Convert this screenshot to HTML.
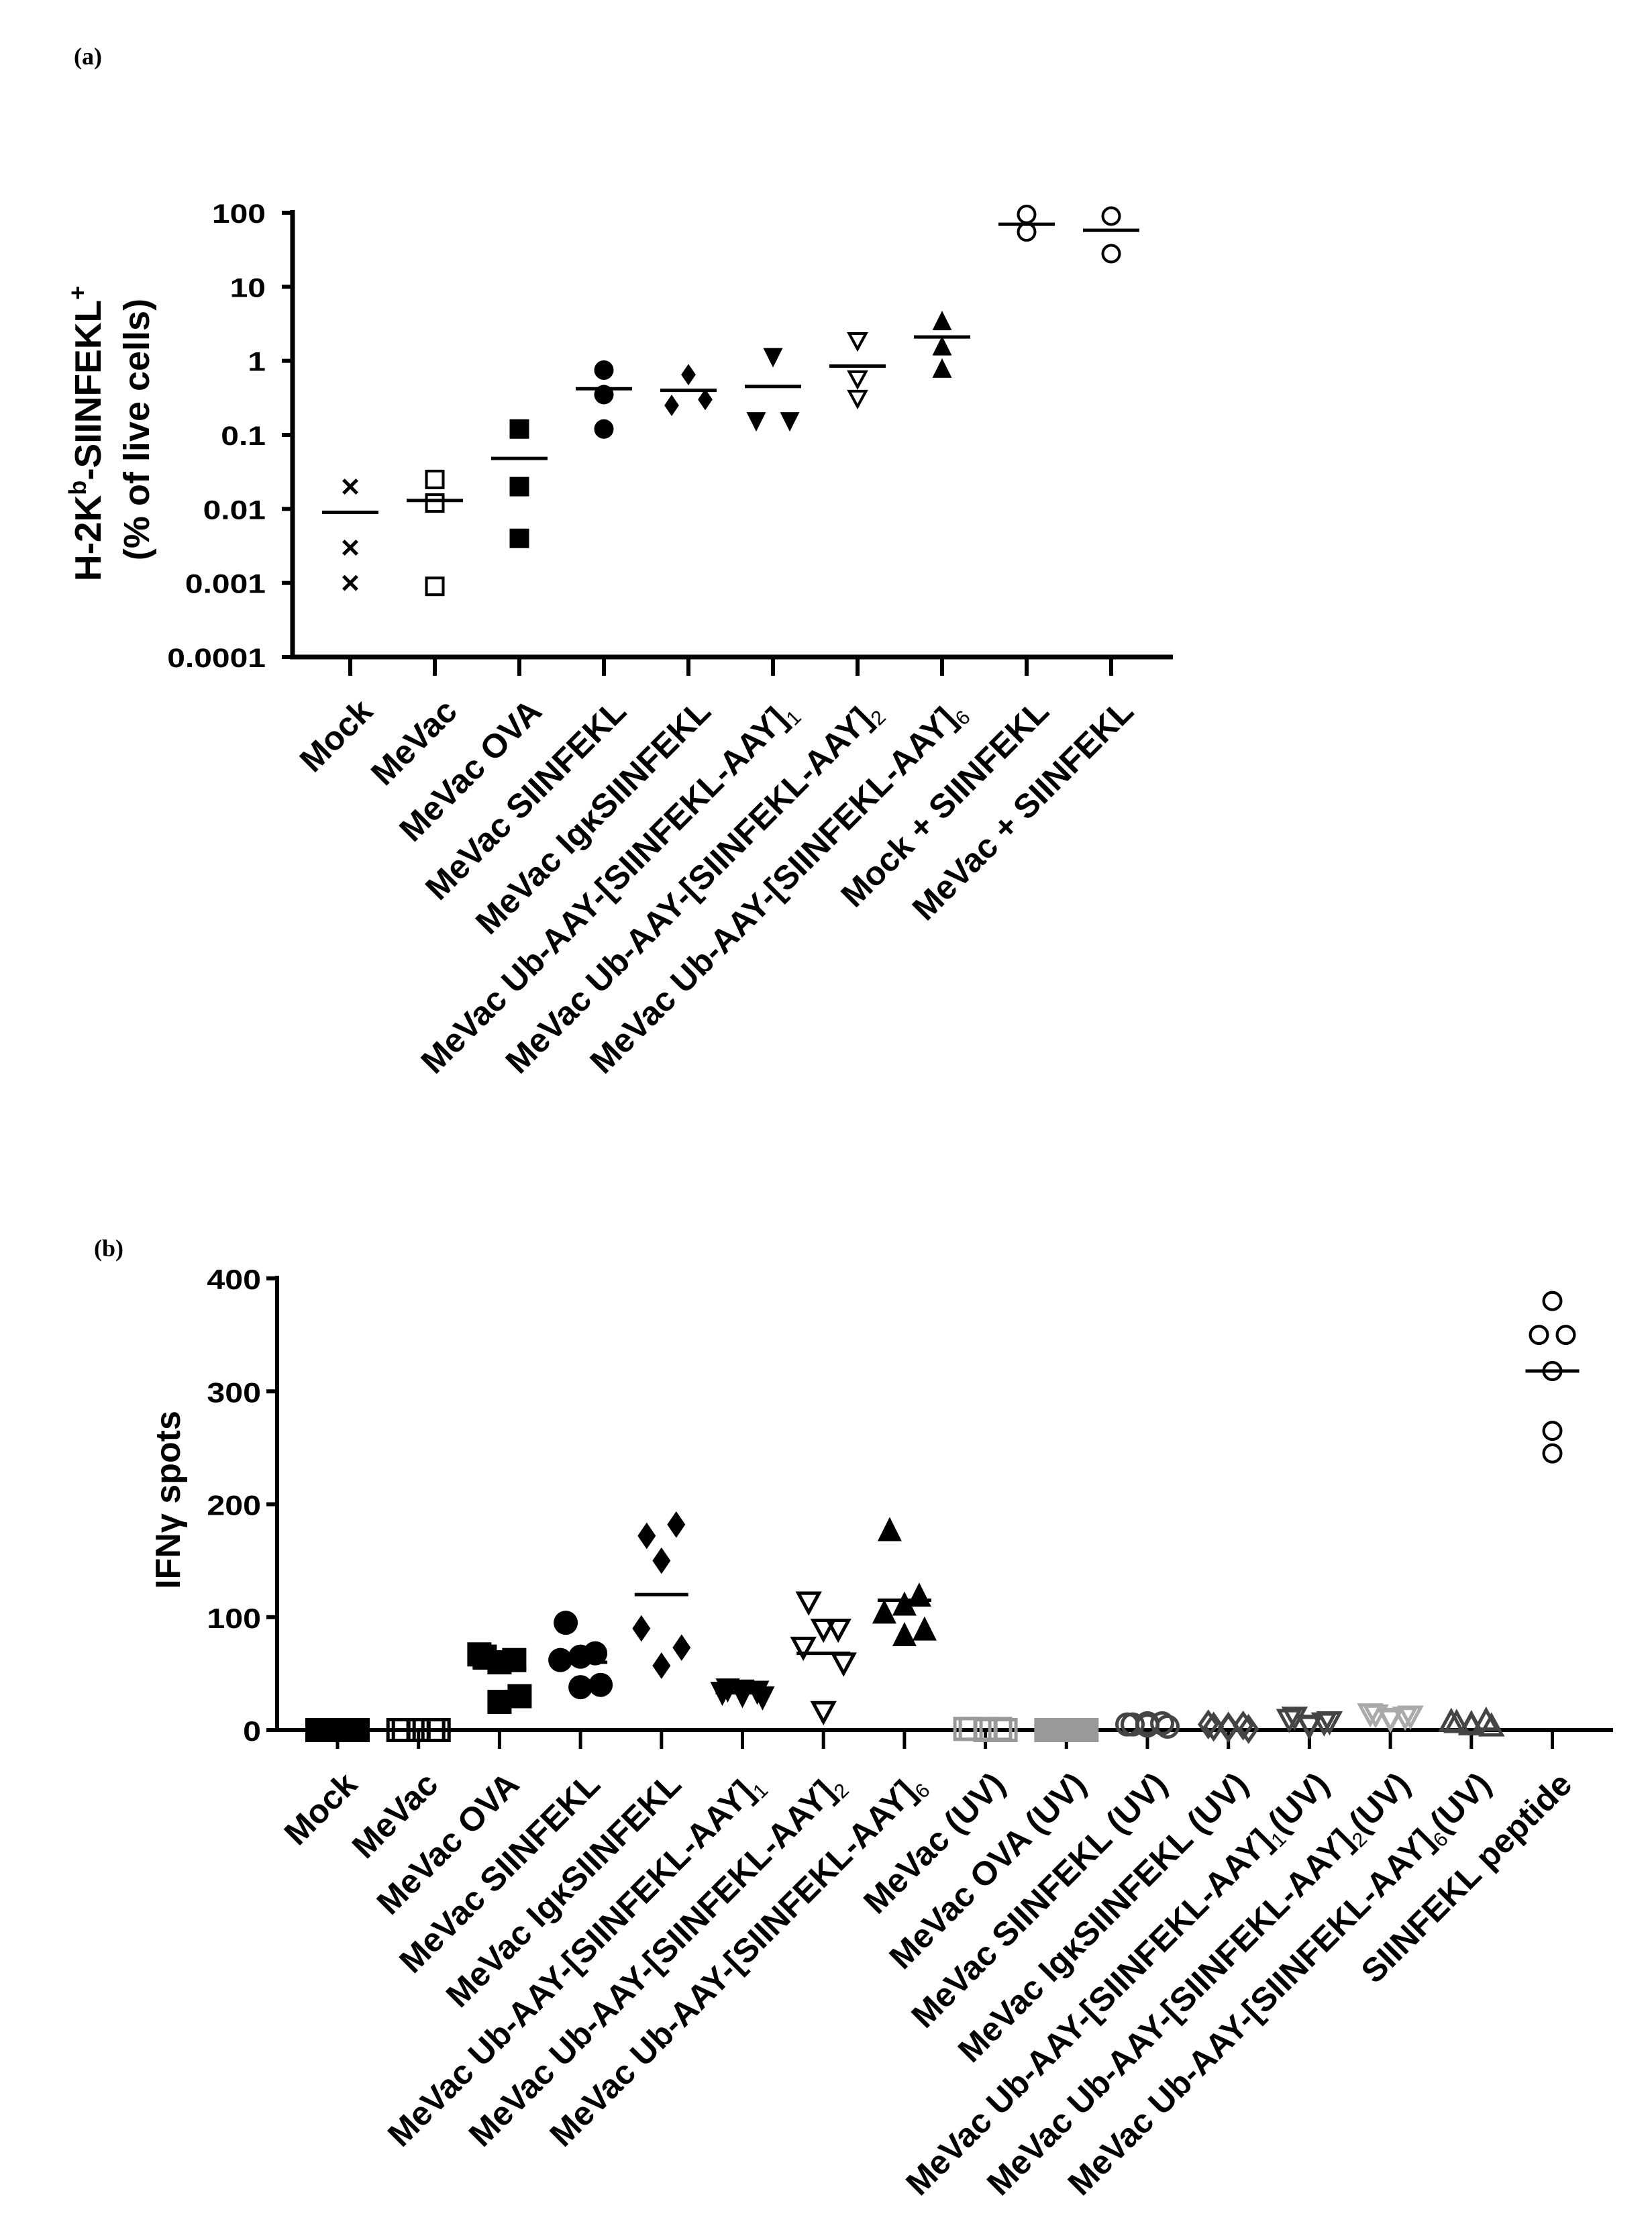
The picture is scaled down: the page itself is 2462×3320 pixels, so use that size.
<!DOCTYPE html>
<html><head><meta charset="utf-8">
<style>
html,body{margin:0;padding:0;background:#fff}
svg{display:block}
text{font-family:"Liberation Sans",Arial,sans-serif;font-weight:bold;fill:#000}
.pl{font-family:"Liberation Serif",serif;font-weight:bold;font-size:36px}
</style></head>
<body>
<svg id="fig" width="2462" height="3320" viewBox="0 0 2462 3320" xmlns="http://www.w3.org/2000/svg">
<text class="pl" x="110" y="96">(a)</text>
<text class="pl" x="140" y="1872">(b)</text>
<g id="ga"></g>
<g id="gb"></g>
</svg>
<script>
// ---------- Chart A data ----------
const catsA = ["Mock","MeVac","MeVac OVA","MeVac SIINFEKL","MeVac Ig\u03BASIINFEKL","MeVac Ub-AAY-[SIINFEKL-AAY]|1","MeVac Ub-AAY-[SIINFEKL-AAY]|2","MeVac Ub-AAY-[SIINFEKL-AAY]|6","Mock + SIINFEKL","MeVac + SIINFEKL"];
const valsA = [[0.02,0.003,0.001],[0.025,0.012,0.0009],[0.12,0.02,0.004],[0.75,0.35,0.12],[0.65,0.25,0.3],[1.1,0.15,0.15],[1.8,0.55,0.3],[3.5,1.6,0.8],[95,55],[90,28]];
const meansA = [0.009,0.013,0.048,0.42,0.4,0.45,0.85,2.1,70,58];
const markersA = ["x","osq","sq","circ","dia","tdn","otdn","tup","ocirc","ocirc"];
const ticksA = [0.0001,0.001,0.01,0.1,1,10,100];
const tickLabelsA = ["0.0001","0.001","0.01","0.1","1","10","100"];

// ---------- Chart B data ----------
const catsB = ["Mock","MeVac","MeVac OVA","MeVac SIINFEKL","MeVac Ig\u03BASIINFEKL","MeVac Ub-AAY-[SIINFEKL-AAY]|1","MeVac Ub-AAY-[SIINFEKL-AAY]|2","MeVac Ub-AAY-[SIINFEKL-AAY]|6","MeVac (UV)","MeVac OVA (UV)","MeVac SIINFEKL (UV)","MeVac Ig\u03BASIINFEKL (UV)","MeVac Ub-AAY-[SIINFEKL-AAY]|1|(UV)","MeVac Ub-AAY-[SIINFEKL-AAY]|2|(UV)","MeVac Ub-AAY-[SIINFEKL-AAY]|6|(UV)","SIINFEKL peptide"];
const valsB = [[0,0,0,0,0,0],[0,0,0,0,0,0],[65,62,60,67,30,25],[95,68,65,62,40,38],[172,182,150,90,73,57],[35,33,30,32,28,34],[112,88,88,72,58,15],[178,120,112,105,90,85],[1,1,1,1,0,0],[0,0,0,0,0,0],[5,6,4,5,3,6],[3,4,2,5,1,3],[10,5,3,8,6,2],[12,10,8,13,11,9],[8,10,6,9,5,7],[380,350,350,318,265,245]];
const meansB = [0,0,55,60,120,33,68,115,0,0,0,0,0,0,0,318];
const markersB = ["sq","osq","sq","circ","dia","tdn","otdn","tup","osq","sq","ocirc","odia","otdn","otdn","otup","ocirc"];
const colorsB = ["#000","#000","#000","#000","#000","#000","#000","#000","#999","#999","#444","#444","#444","#aaa","#444","#000"];
const ticksB = [0,100,200,300,400];
const tickLabelsB = ["0","100","200","300","400"];

const NS="http://www.w3.org/2000/svg";
function mk(parent,tag,attrs){const e=document.createElementNS(NS,tag);for(const k in attrs)e.setAttribute(k,attrs[k]);parent.appendChild(e);return e;}

function marker(g,type,x,y,s,col){
  let e;const h=s/2,sw=Math.max(3,s*0.14);
  if(type==="x"){e=mk(g,"path",{d:`M${x-h*0.7} ${y-h*0.7}L${x+h*0.7} ${y+h*0.7}M${x+h*0.7} ${y-h*0.7}L${x-h*0.7} ${y+h*0.7}`,stroke:col,"stroke-width":sw+1,fill:"none"});}
  else if(type==="sq"){e=mk(g,"rect",{x:x-h,y:y-h,width:s,height:s,fill:col});}
  else if(type==="osq"){e=mk(g,"rect",{x:x-h+sw/2,y:y-h+sw/2,width:s-sw,height:s-sw,fill:"none",stroke:col,"stroke-width":sw});}
  else if(type==="circ"){e=mk(g,"circle",{cx:x,cy:y,r:h,fill:col});}
  else if(type==="ocirc"){e=mk(g,"circle",{cx:x,cy:y,r:h-sw/2,fill:"none",stroke:col,"stroke-width":sw});}
  else if(type==="dia"){e=mk(g,"polygon",{points:`${x},${y-h*1.1} ${x+h*0.75},${y} ${x},${y+h*1.1} ${x-h*0.75},${y}`,fill:col});}
  else if(type==="odia"){e=mk(g,"polygon",{points:`${x},${y-h} ${x+h*0.7},${y} ${x},${y+h} ${x-h*0.7},${y}`,fill:"none",stroke:col,"stroke-width":sw});}
  else if(type==="tdn"){e=mk(g,"polygon",{points:`${x-h},${y-h} ${x+h},${y-h} ${x},${y+h}`,fill:col});}
  else if(type==="otdn"){e=mk(g,"polygon",{points:`${x-h+sw/2},${y-h+sw/2} ${x+h-sw/2},${y-h+sw/2} ${x},${y+h-sw}`,fill:"none",stroke:col,"stroke-width":sw});}
  else if(type==="tup"){e=mk(g,"polygon",{points:`${x-h},${y+h} ${x+h},${y+h} ${x},${y-h}`,fill:col});}
  else if(type==="otup"){e=mk(g,"polygon",{points:`${x-h+sw/2},${y+h-sw/2} ${x+h-sw/2},${y+h-sw/2} ${x},${y-h+sw}`,fill:"none",stroke:col,"stroke-width":sw});}
  return e;
}

function label(g,txt,x,y,fs){
  const t=mk(g,"text",{x:0,y:0,"text-anchor":"end","font-size":fs,transform:`translate(${x},${y}) rotate(-45)`});
  
  
  const parts=txt.split("|");
  parts.forEach((p,i)=>{
    const ts=document.createElementNS(NS,"tspan");
    if(i%2===1){ts.setAttribute("font-size",fs*0.6);ts.setAttribute("font-weight","normal");ts.setAttribute("dy",fs*0.22);}
    else if(i>0){ts.setAttribute("dy",-fs*0.22);}
    ts.textContent=p;t.appendChild(ts);
  });
}

// ---------- Draw A ----------
(function(){
  const g=document.getElementById("ga");
  const X0=436,YT=317,YB=979,XE=1748,x1=522,dx=126;
  const lo=Math.log10(0.0001),hi=Math.log10(100);
  const yS=v=>YB-(Math.log10(v)-lo)/(hi-lo)*(YB-YT);
  const xS=i=>x1+i*dx;
  const ax=mk(g,"path",{d:`M${X0} ${YT-4}V${YB}H${XE}`,stroke:"#000","stroke-width":7,fill:"none"});
  
  ticksA.forEach((t,i)=>{const y=yS(t);
    mk(g,"line",{x1:X0-16,x2:X0,y1:y,y2:y,stroke:"#000","stroke-width":6});
    const tl=mk(g,"text",{x:0,y:0,"text-anchor":"end","font-size":40,transform:`translate(${X0-40},${y+15}) scale(1.2,1)`});tl.textContent=tickLabelsA[i];
    
  });
  catsA.forEach((c,i)=>{const x=xS(i);
    mk(g,"line",{x1:x,x2:x,y1:YB,y2:YB+28,stroke:"#000","stroke-width":6});
    label(g,c,x+36,YB+84,50);
    valsA[i].forEach((v,j)=>{
      let off=0;
      if(i===4||i===5){off=[0,-25,25][j];}
      const m=marker(g,markersA[i],x+off,yS(v),29,"#000");
      
    });
    const ml=mk(g,"line",{x1:x-42,x2:x+42,y1:yS(meansA[i]),y2:yS(meansA[i]),stroke:"#000","stroke-width":5});
    
  });
  const yt=mk(g,"text",{"text-anchor":"middle","font-size":55,transform:"translate(150,646) rotate(-90)"});
  
  yt.innerHTML='H-2K<tspan font-size="36" dy="-22">b</tspan><tspan dy="22">-SIINFEKL</tspan><tspan font-size="36" dy="-22">+</tspan>';
  const yt2=mk(g,"text",{"text-anchor":"middle","font-size":54,transform:"translate(222,640) rotate(-90)"});
  yt2.textContent="(% of live cells)";
  
})();

// ---------- Draw B ----------
(function(){
  const g=document.getElementById("gb");
  const X0=413,YT=1905,YB=2578,XE=2404,x1=503,dx=120.7;
  const yS=v=>YB-v/400*(YB-YT);
  const xS=i=>x1+i*dx;
  const ax=mk(g,"path",{d:`M${X0} ${YT-4}V${YB}H${XE}`,stroke:"#000","stroke-width":6,fill:"none"});
  
  ticksB.forEach((t,i)=>{const y=yS(t);
    mk(g,"line",{x1:X0-16,x2:X0,y1:y,y2:y,stroke:"#000","stroke-width":6});
    const tl=mk(g,"text",{x:0,y:0,"text-anchor":"end","font-size":42,transform:`translate(${X0-24},${y+16}) scale(1.15,1)`});tl.textContent=tickLabelsB[i];
    
  });
  const offs=[-22,22,0,-30,30,0];
  const offsPep=[0,-20,20,0,0,0];
  catsB.forEach((c,i)=>{const x=xS(i);
    mk(g,"line",{x1:x,x2:x,y1:YB,y2:YB+28,stroke:"#000","stroke-width":5});
    label(g,c,x+32,YB+84,50);
    valsB[i].forEach((v,j)=>{
      const o=(i===15?offsPep:offs)[j];
      const m=marker(g,markersB[i],x+o,yS(v),i===15?30:36,colorsB[i]);
      
    });
    if(meansB[i]>0){
      const ml=mk(g,"line",{x1:x-40,x2:x+40,y1:yS(meansB[i]),y2:yS(meansB[i]),stroke:"#000","stroke-width":5});
      
    }
  });
  const yt=mk(g,"text",{"text-anchor":"middle","font-size":52,transform:"translate(268,2235) rotate(-90)"});
  yt.textContent="IFN\u03B3 spots";
  
})();
</script>
</body></html>
